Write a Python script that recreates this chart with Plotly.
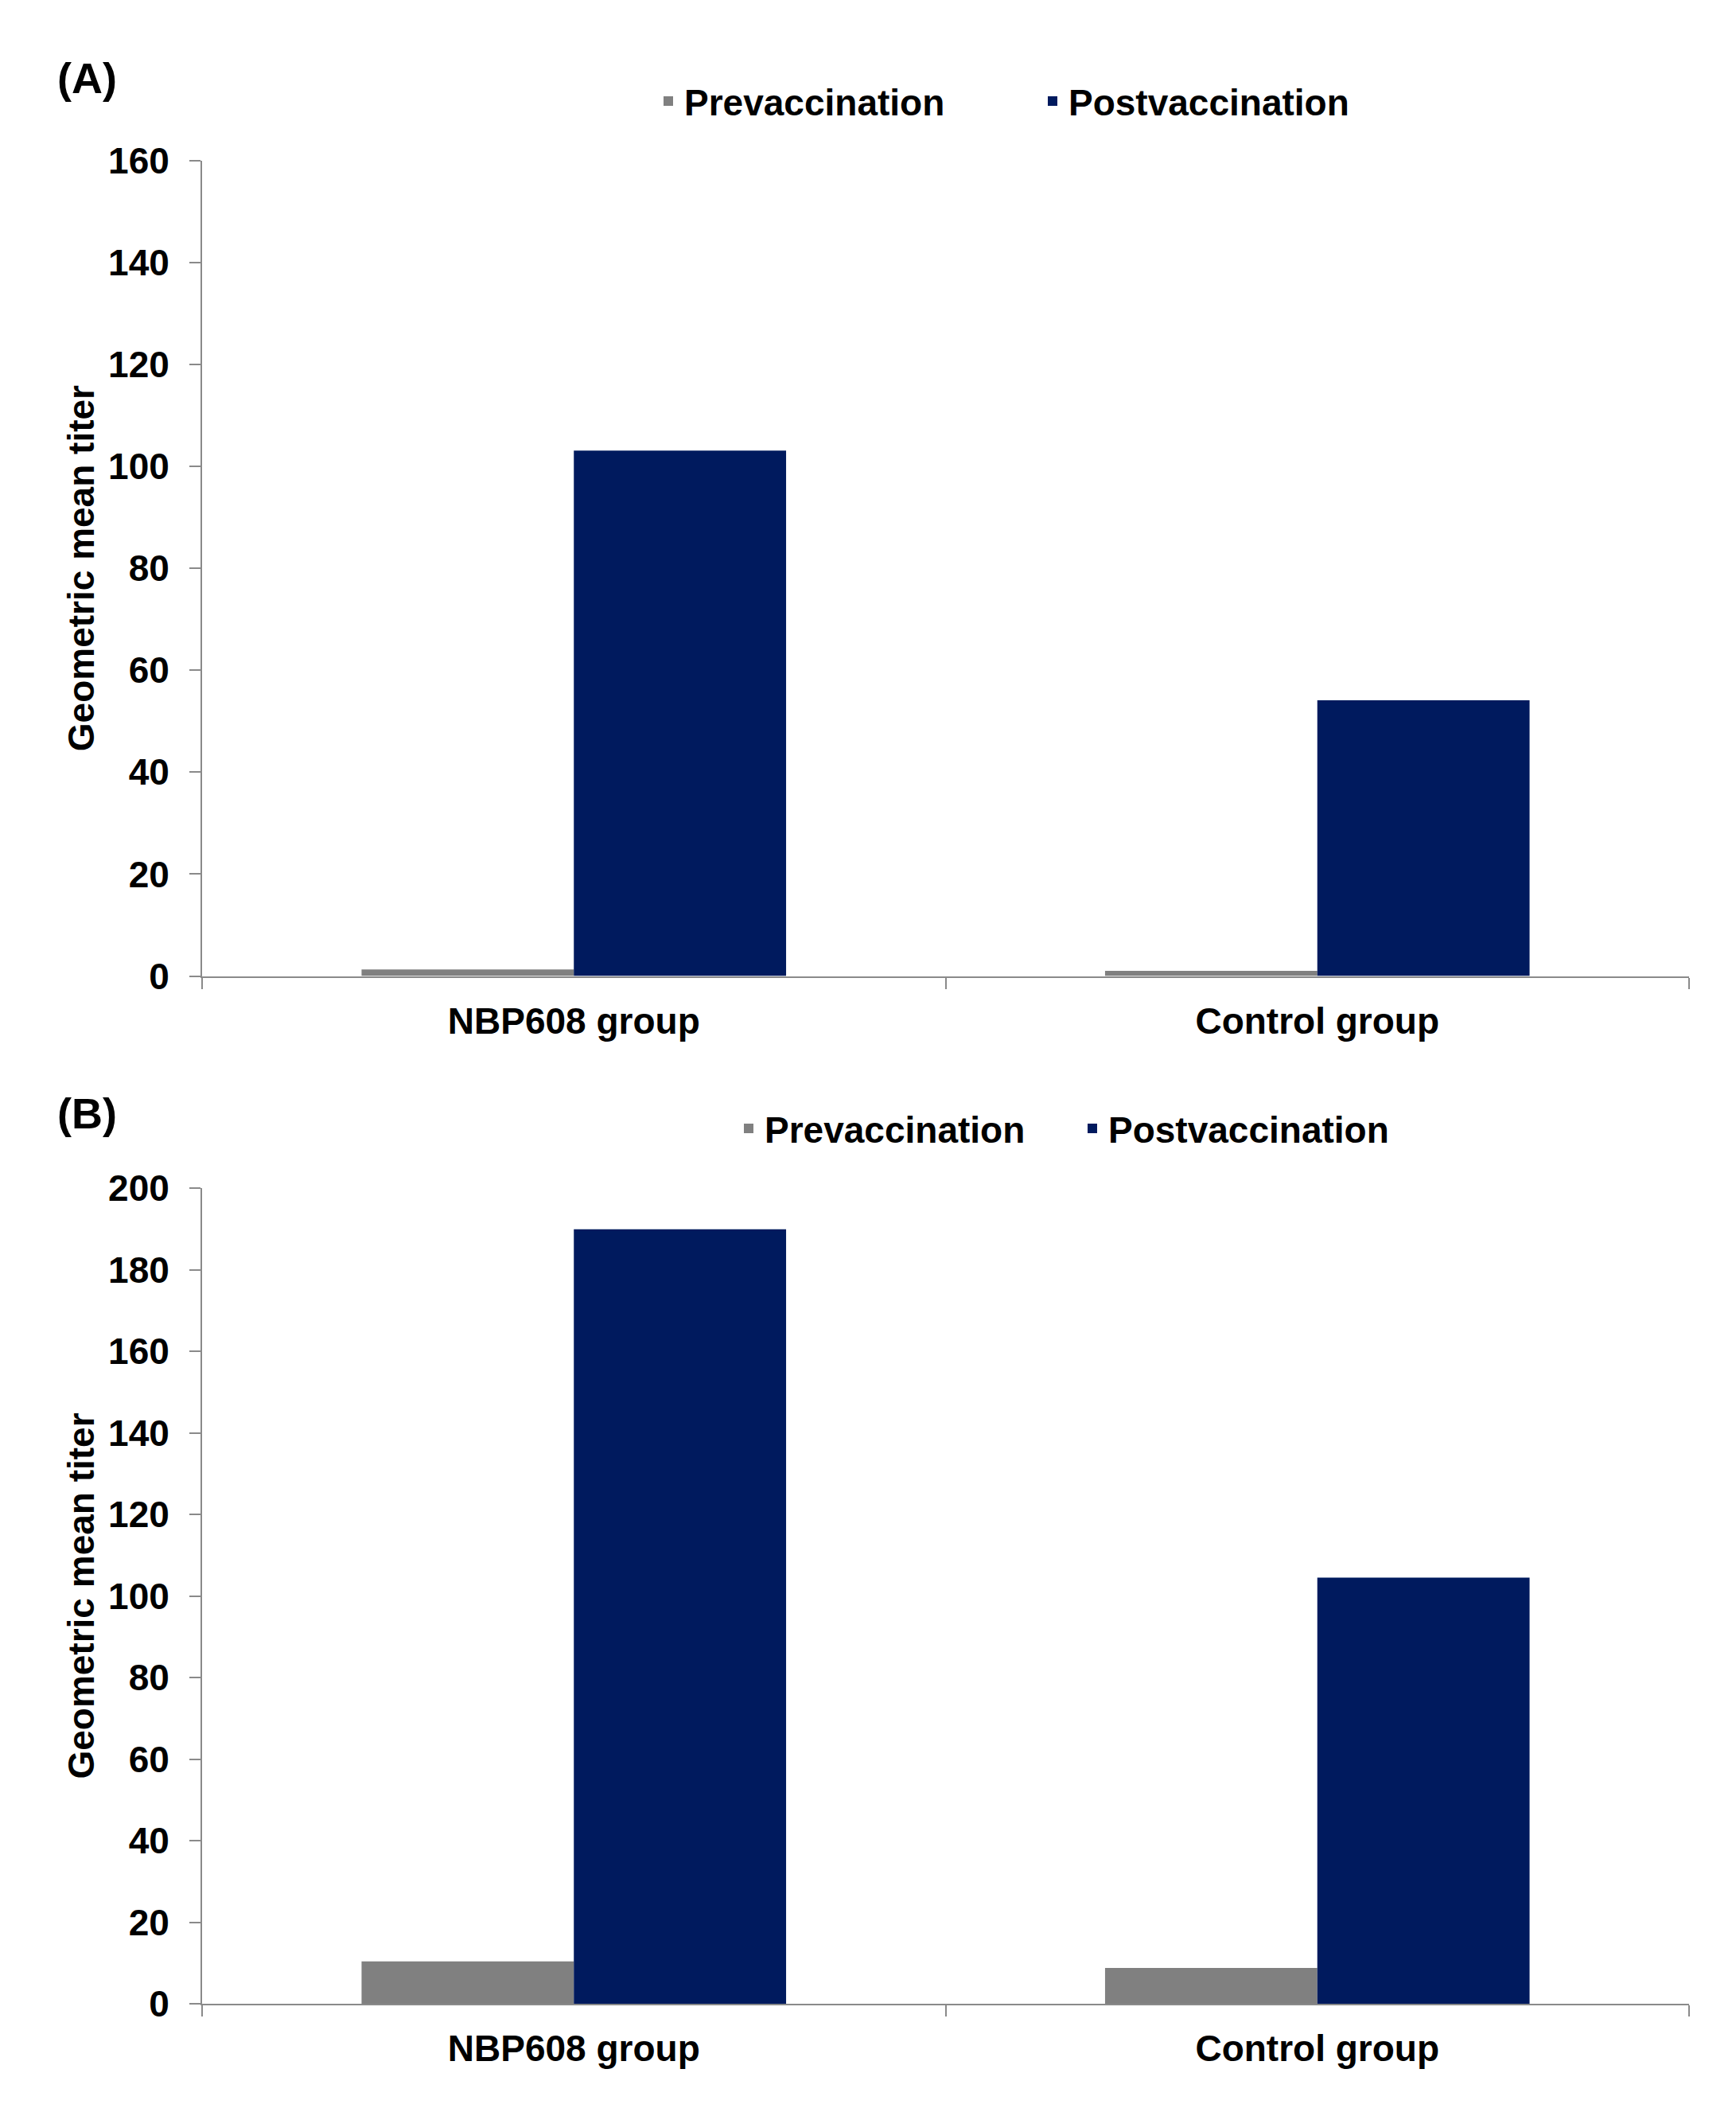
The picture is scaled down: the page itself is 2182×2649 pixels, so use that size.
import plotly.graph_objects as go

# ---- data ----
categories = ["NBP608 group", "Control group"]
series_names = ["Prevaccination", "Postvaccination"]
panel_a_pre = [1.3, 1.0]
panel_a_post = [103.1, 54.1]
panel_b_pre = [10.4, 8.8]
panel_b_post = [189.9, 104.5]
panel_a_ticks = [0, 20, 40, 60, 80, 100, 120, 140, 160]
panel_b_ticks = [0, 20, 40, 60, 80, 100, 120, 140, 160, 180, 200]
panel_labels = ["(A)", "(B)"]
y_title = "Geometric mean titer"

# ---- styles ----
PAGE_OFF = 8                      # default body margin of the html page
W, H = 2182 - 2 * PAGE_OFF, 2649 - 2 * PAGE_OFF
colors = ["#808080", "#001A5E"]
axis_gray = "#8a8a8a"
FONT = "Liberation Sans, Arial, sans-serif"
txt = dict(family=FONT, size=46, color="black", weight="bold")


def px(v):
    return (v - PAGE_OFF) / W


def py(v):
    return 1 - (v - PAGE_OFF) / H


fig = go.Figure()

fig.add_trace(go.Bar(name=series_names[0], x=categories, y=panel_a_pre,
                     marker=dict(color=colors[0], line=dict(width=0)),
                     xaxis="x", yaxis="y", legend="legend"))
fig.add_trace(go.Bar(name=series_names[1], x=categories, y=panel_a_post,
                     marker=dict(color=colors[1], line=dict(width=0)),
                     xaxis="x", yaxis="y", legend="legend"))
fig.add_trace(go.Bar(name=series_names[0], x=categories, y=panel_b_pre,
                     marker=dict(color=colors[0], line=dict(width=0)),
                     xaxis="x2", yaxis="y2", legend="legend2"))
fig.add_trace(go.Bar(name=series_names[1], x=categories, y=panel_b_post,
                     marker=dict(color=colors[1], line=dict(width=0)),
                     xaxis="x2", yaxis="y2", legend="legend2"))

x_dom = [px(254), px(2123)]
ya_dom = [py(1226.5), py(201.7)]
yb_dom = [py(2518), py(1493)]

xcommon = dict(domain=x_dom, type="category", range=[-0.5, 1.5],
               tickson="boundaries", ticks="outside", ticklen=14, tickwidth=2,
               tickcolor=axis_gray, showline=True, linecolor=axis_gray,
               linewidth=2, showgrid=False, zeroline=False, tickfont=txt,
               ticklabelstandoff=15, fixedrange=True)
ycommon = dict(ticks="outside", ticklen=14, tickwidth=2, tickcolor=axis_gray,
               showline=True, linecolor=axis_gray, linewidth=2, showgrid=False,
               zeroline=False, tickfont=txt, ticklabelstandoff=16,
               title=dict(text=y_title, font=txt, standoff=3), fixedrange=True)

fig.update_layout(
    width=W, height=H,
    margin=dict(l=0, r=0, t=0, b=0, pad=0, autoexpand=False),
    paper_bgcolor="white", plot_bgcolor="white",
    barmode="group", bargap=0.429, bargroupgap=0,
    xaxis=dict(anchor="y", **xcommon),
    xaxis2=dict(anchor="y2", **xcommon),
    yaxis=dict(anchor="x", domain=ya_dom, range=[0, 160],
               tickvals=panel_a_ticks, **ycommon),
    yaxis2=dict(anchor="x2", domain=yb_dom, range=[0, 200],
                tickvals=panel_b_ticks, **ycommon),
    legend=dict(orientation="h", x=812 / W, xanchor="left",
                y=py(127), yanchor="middle", font=txt,
                entrywidth=438, entrywidthmode="pixels",
                bgcolor="rgba(0,0,0,0)"),
    legend2=dict(orientation="h", x=913 / W, xanchor="left",
                 y=py(1418), yanchor="middle", font=txt,
                 entrywidth=387, entrywidthmode="pixels",
                 bgcolor="rgba(0,0,0,0)"),
    annotations=[
        dict(text=panel_labels[0], x=px(109), y=py(98), xref="paper",
             yref="paper", xanchor="center", yanchor="middle",
             showarrow=False, font=dict(family=FONT, size=54, color="black",
                                        weight="bold")),
        dict(text=panel_labels[1], x=px(109), y=py(1399), xref="paper",
             yref="paper", xanchor="center", yanchor="middle",
             showarrow=False, font=dict(family=FONT, size=54, color="black",
                                        weight="bold")),
    ],
)

fig.write_html("out.html")
